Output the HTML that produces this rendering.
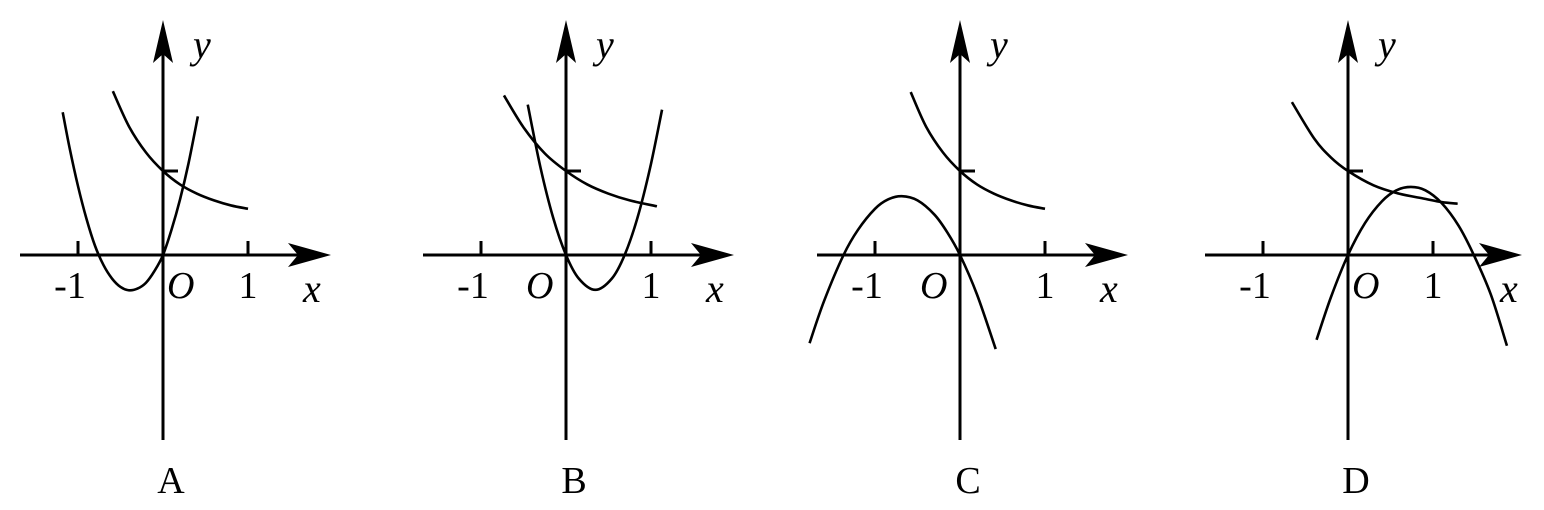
<!DOCTYPE html>
<html><head><meta charset="utf-8"><style>
html,body{margin:0;padding:0;background:#fff;}
svg{display:block;}
text{font-family:"Liberation Serif",serif;fill:#000;}
</style></head><body>
<svg id="fig" width="1544" height="510" viewBox="0 0 1544 510"></svg>
<script>
const panelNames = ["A","B","C","D"];
const originX = [163, 566, 960, 1348];
const originOffset = [4, -40, -40, 4];
const axisExtra = [0, 0, 0, 6];
const originY = 255;
const unitX = 85, unitY = 84;
// curve data (math units)
const expA = [[-0.59,1.95],[-0.4,1.53],[-0.2,1.22],[0,1],[0.2,0.84],[0.4,0.73],[0.6,0.65],[0.8,0.59],[1,0.55]];
const polyA = [[-1.18,1.70],[-1.1,1.28],[-1.0,0.82],[-0.9,0.43],[-0.8,0.11],[-0.7,-0.12],[-0.6,-0.28],[-0.5,-0.38],[-0.4,-0.42],[-0.3,-0.40],[-0.2,-0.33],[-0.1,-0.19],[0,0],[0.1,0.30],[0.2,0.66],[0.3,1.09],[0.41,1.65]];
const expB = [[-0.73,1.90],[-0.5,1.52],[-0.25,1.21],[0,1],[0.25,0.84],[0.5,0.73],[0.75,0.65],[1.07,0.58]];
const polyB = [[-0.45,1.79],[-0.3,1.04],[-0.15,0.44],[0,0],[0.15,-0.28],[0.345,-0.415],[0.54,-0.28],[0.69,0],[0.84,0.44],[0.99,1.04],[1.13,1.73]];
const expC = [[-0.58,1.94],[-0.4,1.53],[-0.2,1.22],[0,1],[0.2,0.84],[0.4,0.73],[0.6,0.65],[0.8,0.59],[1,0.55]];
const polyC = [[-1.77,-1.05],[-1.6,-0.55],[-1.37,0],[-1.2,0.30],[-1.0,0.55],[-0.85,0.66],[-0.685,0.70],[-0.5,0.65],[-0.3,0.48],[-0.15,0.27],[0,0],[0.2,-0.47],[0.42,-1.12]];
const expD = [[-0.66,1.82],[-0.4,1.39],[-0.2,1.16],[0,1],[0.3,0.83],[0.6,0.73],[0.9,0.67],[1.1,0.63],[1.29,0.61]];
const polyD = [[-0.37,-1.01],[-0.2,-0.5],[0,0],[0.2,0.38],[0.4,0.64],[0.57,0.77],[0.74,0.81],[0.91,0.77],[1.1,0.62],[1.3,0.35],[1.48,0],[1.68,-0.47],[1.87,-1.08]];
const expCurves = [expA, expB, expC, expD];
const polyCurves = [polyA, polyB, polyC, polyD];
const tickLabels = ["-1","1"];
const tickValues = [-1, 1];

const NS = "http://www.w3.org/2000/svg";
const svg = document.getElementById("fig");
function el(tag, attrs, parent){const e=document.createElementNS(NS,tag);for(const k in attrs)e.setAttribute(k,attrs[k]);(parent||svg).appendChild(e);return e;}
function sx(p,x){return originX[p]+x*unitX;}
function sy(y){return originY-y*unitY;}
function smoothPath(p, pts){
  const P = pts.map(q=>[sx(p,q[0]), sy(q[1])]);
  let d = "M"+P[0][0]+" "+P[0][1];
  for(let i=0;i<P.length-1;i++){
    const p0=P[Math.max(0,i-1)],p1=P[i],p2=P[i+1],p3=P[Math.min(P.length-1,i+2)];
    const c1=[p1[0]+(p2[0]-p0[0])/6,p1[1]+(p2[1]-p0[1])/6];
    const c2=[p2[0]-(p3[0]-p1[0])/6,p2[1]-(p3[1]-p1[1])/6];
    d+=" C"+c1[0]+" "+c1[1]+" "+c2[0]+" "+c2[1]+" "+p2[0]+" "+p2[1];
  }
  return d;
}
panelNames.forEach((name,p)=>{
  const g = el("g",{});
  
  
  const ox = originX[p];
  const ex = axisExtra[p];
  const xa = el("line",{x1:ox-143,y1:originY,x2:ox+150+ex,y2:originY,stroke:"#000","stroke-width":3},g);
  
  
  const xh = el("path",{d:`M${ox+168+ex} ${originY} L${ox+125+ex} ${originY-12} L${ox+135+ex} ${originY} L${ox+125+ex} ${originY+12} Z`,fill:"#000"},g);
  
  
  const ya = el("line",{x1:ox,y1:440,x2:ox,y2:50,stroke:"#000","stroke-width":3},g);
  
  
  const yh = el("path",{d:`M${ox} 20 L${ox-10} 63 L${ox} 54 L${ox+10} 63 Z`,fill:"#000"},g);
  
  
  tickValues.forEach((v,i)=>{
    const t = el("line",{x1:sx(p,v),y1:originY,x2:sx(p,v),y2:originY-14,stroke:"#000","stroke-width":3},g);
    
    
    const tl = el("text",{x:sx(p,v)+(v<0?-8:0),y:originY+43,"font-size":38,"text-anchor":"middle"},g);
    tl.textContent = tickLabels[i];
    
    
  });
  const yt = el("line",{x1:ox,y1:sy(1),x2:ox+15,y2:sy(1),stroke:"#000","stroke-width":3},g);
  
  
  const o = el("text",{x:ox+originOffset[p],y:originY+43,"font-size":38,"font-style":"italic"},g);
  o.textContent="O";
  
  
  const xl = el("text",{x:ox+140+ex*2,y:originY+47,"font-size":40,"font-style":"italic"},g);
  xl.textContent="x";
  
  
  const yl = el("text",{x:ox+30,y:58,"font-size":40,"font-style":"italic"},g);
  yl.textContent="y";
  
  
  const pl = el("text",{x:ox+8,y:493,"font-size":38,"text-anchor":"middle"},g);
  pl.textContent=name;
  
  
  const c1 = el("path",{d:smoothPath(p,expCurves[p]),fill:"none",stroke:"#000","stroke-width":2.6},g);
  
  
  const c2 = el("path",{d:smoothPath(p,polyCurves[p]),fill:"none",stroke:"#000","stroke-width":2.6},g);
  
  
});
</script>
</body></html>
